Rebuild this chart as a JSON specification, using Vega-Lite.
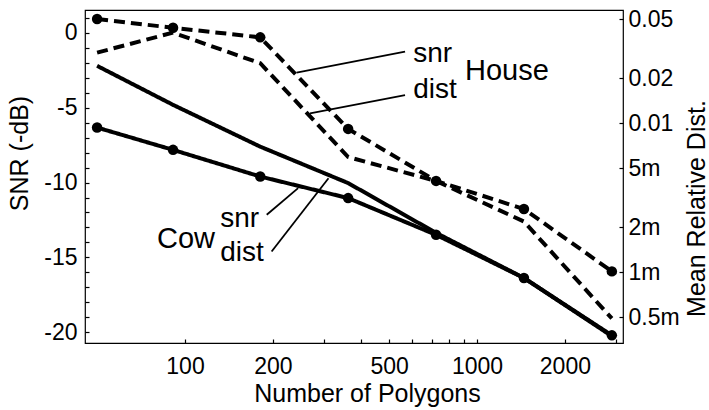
{
  "$schema": "https://vega.github.io/schema/vega-lite/v6.json",
  "width": 538,
  "height": 333,
  "autosize": "none",
  "padding": {"left": 85, "top": 10, "right": 86, "bottom": 67},
  "background": "white",
  "config": {
    "view": {"stroke": "black", "strokeWidth": 1.2},
    "font": "Liberation Sans",
    "axis": {
      "labelFont": "Liberation Sans",
      "titleFont": "Liberation Sans",
      "labelFontSize": 23,
      "titleFontSize": 25,
      "titleFontWeight": "normal",
      "labelColor": "black",
      "titleColor": "black",
      "tickColor": "black",
      "tickWidth": 1.2,
      "domain": false,
      "grid": false,
      "labelOverlap": false,
      "labelFlush": false
    }
  },
  "datasets": {
    "snr": [
      {"polygons": 50, "model": "House", "snr": 0.91},
      {"polygons": 91, "model": "House", "snr": 0.33},
      {"polygons": 181, "model": "House", "snr": -0.31},
      {"polygons": 362, "model": "House", "snr": -6.42},
      {"polygons": 724, "model": "House", "snr": -9.89},
      {"polygons": 1448, "model": "House", "snr": -11.77},
      {"polygons": 2896, "model": "House", "snr": -15.93},
      {"polygons": 50, "model": "Cow", "snr": -6.33},
      {"polygons": 91, "model": "Cow", "snr": -7.82},
      {"polygons": 181, "model": "Cow", "snr": -9.6},
      {"polygons": 362, "model": "Cow", "snr": -11.04},
      {"polygons": 724, "model": "Cow", "snr": -13.49},
      {"polygons": 1448, "model": "Cow", "snr": -16.37},
      {"polygons": 2896, "model": "Cow", "snr": -20.2}
    ],
    "dist": [
      {"polygons": 50, "model": "House", "dist": 0.0298},
      {"polygons": 91, "model": "House", "dist": 0.0406},
      {"polygons": 181, "model": "House", "dist": 0.0253},
      {"polygons": 362, "model": "House", "dist": 0.00594},
      {"polygons": 724, "model": "House", "dist": 0.0041},
      {"polygons": 1448, "model": "House", "dist": 0.00219},
      {"polygons": 2896, "model": "House", "dist": 0.00049},
      {"polygons": 50, "model": "Cow", "dist": 0.0243},
      {"polygons": 91, "model": "Cow", "dist": 0.0133},
      {"polygons": 181, "model": "Cow", "dist": 0.00697},
      {"polygons": 362, "model": "Cow", "dist": 0.00397},
      {"polygons": 724, "model": "Cow", "dist": 0.00184},
      {"polygons": 1448, "model": "Cow", "dist": 0.000916},
      {"polygons": 2896, "model": "Cow", "dist": 0.000373}
    ],
    "leaders": [
      {"seg": "house-snr", "polygons": 567, "snr": -1.27},
      {"seg": "house-snr", "polygons": 241, "snr": -2.67},
      {"seg": "house-dist", "polygons": 567, "snr": -4.16},
      {"seg": "house-dist", "polygons": 268, "snr": -5.38},
      {"seg": "cow-snr", "polygons": 190.5, "snr": -12.15},
      {"seg": "cow-snr", "polygons": 244, "snr": -10.37},
      {"seg": "cow-dist", "polygons": 198, "snr": -14.6},
      {"seg": "cow-dist", "polygons": 310, "snr": -9.71}
    ],
    "labels": [
      {"label": "snr", "kind": "metric", "polygons": 605, "snr": -1.93},
      {"label": "dist", "kind": "metric", "polygons": 605, "snr": -4.37},
      {"label": "House", "kind": "name", "polygons": 910, "snr": -3.15},
      {"label": "snr", "kind": "metric", "polygons": 132, "snr": -12.95},
      {"label": "dist", "kind": "metric", "polygons": 132, "snr": -15.27},
      {"label": "Cow", "kind": "name", "polygons": 80.2, "snr": -14.37}
    ]
  },
  "layer": [
    {
      "encoding": {
        "x": {
          "field": "polygons",
          "type": "quantitative",
          "scale": {"type": "log", "domain": [45.45, 3162], "nice": false, "zero": false},
          "axis": {
            "title": "Number of Polygons",
            "values": [100, 200, 300, 400, 500, 600, 700, 800, 900, 1000, 2000, 3000],
            "labelExpr": "indexof([100, 200, 500, 1000, 2000], datum.value) >= 0 ? '' + datum.value : ''",
            "tickSize": -4,
            "labelPadding": 16,
            "titleX": 282,
            "titleY": 58,
            "titleBaseline": "alphabetic"
          }
        },
        "y": {
          "field": "snr",
          "type": "quantitative",
          "scale": {"domain": [-20.71, 1.515], "nice": false, "zero": false},
          "axis": {
            "title": "SNR (-dB)",
            "values": [-20, -19, -18, -17, -16, -15, -14, -13, -12, -11, -10, -9, -8, -7, -6, -5, -4, -3, -2, -1, 0, 1],
            "labelExpr": "datum.value % 5 === 0 ? '' + datum.value : ''",
            "tickSize": -4,
            "labelPadding": 12,
            "titleAngle": -90,
            "titleX": -58,
            "titleY": 143,
            "titleBaseline": "alphabetic"
          }
        }
      },
      "layer": [
        {
          "data": {"name": "snr"},
          "mark": {"type": "line", "color": "black", "strokeWidth": 4},
          "encoding": {
            "detail": {"field": "model"},
            "strokeDash": {
              "field": "model",
              "type": "nominal",
              "scale": {"domain": ["House", "Cow"], "range": [[11, 6], [1, 0]]},
              "legend": null
            }
          }
        },
        {
          "data": {"name": "snr"},
          "mark": {"type": "circle", "color": "black", "size": 110, "opacity": 1}
        },
        {
          "data": {"name": "leaders"},
          "mark": {"type": "line", "color": "black", "strokeWidth": 1.8},
          "encoding": {"detail": {"field": "seg"}}
        },
        {
          "data": {"name": "labels"},
          "transform": [{"filter": "datum.kind === 'metric'"}],
          "mark": {"type": "text", "align": "left", "baseline": "alphabetic", "fontSize": 28, "font": "Liberation Sans", "color": "black"},
          "encoding": {"text": {"field": "label"}}
        },
        {
          "data": {"name": "labels"},
          "transform": [{"filter": "datum.kind === 'name'"}],
          "mark": {"type": "text", "align": "left", "baseline": "alphabetic", "fontSize": 29, "font": "Liberation Sans", "color": "black"},
          "encoding": {"text": {"field": "label"}}
        }
      ]
    },
    {
      "data": {"name": "dist"},
      "mark": {"type": "line", "color": "black", "strokeWidth": 4},
      "encoding": {
        "x": {
          "field": "polygons",
          "type": "quantitative",
          "scale": {"type": "log", "domain": [45.45, 3162], "nice": false, "zero": false},
          "axis": {
            "title": "Number of Polygons",
            "values": [100, 200, 300, 400, 500, 600, 700, 800, 900, 1000, 2000, 3000],
            "labelExpr": "indexof([100, 200, 500, 1000, 2000], datum.value) >= 0 ? '' + datum.value : ''",
            "tickSize": -4,
            "labelPadding": 16,
            "titleX": 282,
            "titleY": 58,
            "titleBaseline": "alphabetic"
          }
        },
        "y": {
          "field": "dist",
          "type": "quantitative",
          "scale": {"type": "log", "domain": [0.0003354, 0.05759], "nice": false, "zero": false},
          "axis": {
            "orient": "right",
            "title": "Mean Relative Dist.",
            "values": [0.0005, 0.001, 0.002, 0.005, 0.01, 0.02, 0.05],
            "labelExpr": "datum.value >= 0.01 ? format(datum.value, '.2f') : format(datum.value * 1000, '~g') + 'm'",
            "tickSize": -4,
            "labelPadding": 9,
            "titleAngle": -90,
            "titleX": 81,
            "titleY": 198,
            "titleBaseline": "alphabetic"
          }
        },
        "detail": {"field": "model"},
        "strokeDash": {
          "field": "model",
          "type": "nominal",
          "scale": {"domain": ["House", "Cow"], "range": [[11, 6], [1, 0]]},
          "legend": null
        }
      }
    }
  ],
  "resolve": {"scale": {"y": "independent", "strokeDash": "shared"}, "axis": {"y": "independent"}}
}
